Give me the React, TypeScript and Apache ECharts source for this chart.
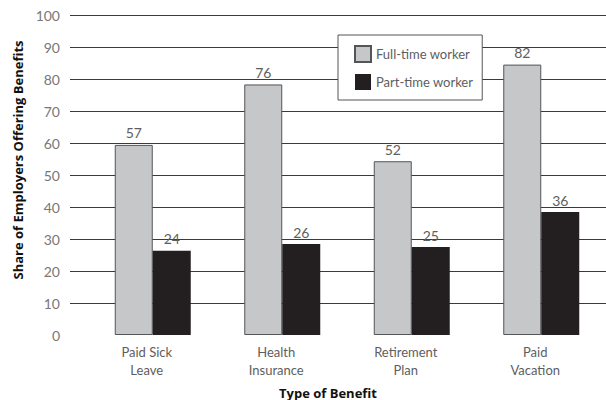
import React, { useEffect, useRef } from "react";
import * as echarts from "echarts";

const categories = ["Paid Sick\nLeave", "Health\nInsurance", "Retirement\nPlan", "Paid\nVacation"];
const seriesNames = ["Full-time worker", "Part-time worker"];
// bar heights as drawn in the figure
const fullTimeValues = [59.4, 78.3, 54.3, 84.5];
const partTimeValues = [26.3, 28.4, 27.5, 38.4];
// value labels printed above the bars
const fullTimeLabels = ["57", "76", "52", "82"];
const partTimeLabels = ["24", "26", "25", "36"];
const yTicks = [0, 10, 20, 30, 40, 50, 60, 70, 80, 90, 100];
const yTitle = "Share of Employers Offering Benefits";
const xTitle = "Type of Benefit";

const FONT = "Lato, 'Open Sans', sans-serif";
const TXT = "#5e5e5e";

export default function App() {
  const ref = useRef<HTMLDivElement>(null);
  useEffect(() => {
    if (!ref.current) return;
    const chart = echarts.init(ref.current, undefined, { renderer: "svg" });
    const yMin = yTicks[0];
    const yMax = yTicks[yTicks.length - 1];
    const yInterval = yTicks[1] - yTicks[0];
    chart.setOption({
      animation: false,
      backgroundColor: "#ffffff",
      textStyle: { fontFamily: FONT },
      grid: [
        { left: 70, right: 0, top: 15, bottom: 65 },
        { left: 88, width: 532, top: 15, bottom: 65 },
      ],
      xAxis: [
        { gridIndex: 0, type: "value", show: false, min: 0, max: 1 },
        {
          gridIndex: 1,
          type: "category",
          data: categories,
          axisLine: { show: false },
          axisTick: { show: false },
          axisLabel: {
            color: TXT,
            fontSize: 13,
            lineHeight: 18,
            margin: 8,
            fontFamily: FONT,
            padding: [0, 12, 0, 0],
          },
        },
      ],
      yAxis: [
        {
          gridIndex: 0,
          type: "value",
          min: yMin,
          max: yMax,
          interval: yInterval,
          axisLine: { show: false },
          axisTick: { show: false },
          axisLabel: { color: "#777777", fontSize: 14, margin: 10, fontFamily: FONT },
          splitLine: {
            show: true,
            lineStyle: { color: "#3a3a3a", width: 1 },
            showMinLine: false,
          },
        },
        {
          gridIndex: 1,
          type: "value",
          min: yMin,
          max: yMax,
          interval: yInterval,
          show: false,
          splitLine: { show: false },
        },
      ],
      legend: {
        orient: "vertical",
        left: 338,
        top: 35,
        padding: [10, 9, 10, 16],
        itemGap: 11,
        itemWidth: 16,
        itemHeight: 16,
        icon: "rect",
        backgroundColor: "#ffffff",
        borderColor: "#555555",
        borderWidth: 1,
        textStyle: { color: TXT, fontSize: 13, fontFamily: FONT },
        data: seriesNames,
        z: 10,
      },
      series: [
        {
          name: seriesNames[0],
          type: "bar",
          xAxisIndex: 1,
          yAxisIndex: 1,
          data: fullTimeValues,
          barWidth: 38,
          barGap: "0%",
          itemStyle: { color: "#c6c7c9", borderColor: "#555555", borderWidth: 1 },
          label: {
            show: true,
            position: "top",
            distance: 5,
            color: TXT,
            fontSize: 14,
            fontFamily: FONT,
            formatter: (p: any) => fullTimeLabels[p.dataIndex],
          },
        },
        {
          name: seriesNames[1],
          type: "bar",
          xAxisIndex: 1,
          yAxisIndex: 1,
          data: partTimeValues,
          barWidth: 38,
          barGap: "0%",
          itemStyle: { color: "#231f20" },
          label: {
            show: true,
            position: "top",
            distance: 5,
            color: TXT,
            fontSize: 14,
            fontFamily: FONT,
            formatter: (p: any) => partTimeLabels[p.dataIndex],
          },
        },
      ],
      graphic: [
        {
          type: "text",
          x: 18,
          y: 160,
          rotation: Math.PI / 2,
          style: {
            text: yTitle,
            fill: "#111",
            fontFamily: "'Open Sans', sans-serif",
            fontWeight: "bold",
            fontSize: 13,
            align: "center",
            verticalAlign: "middle",
          },
        },
        {
          type: "text",
          x: 328,
          y: 386,
          style: {
            text: xTitle,
            fill: "#111",
            fontFamily: "'Open Sans', sans-serif",
            fontWeight: "bold",
            fontSize: 13,
            align: "center",
            verticalAlign: "top",
          },
        },
      ],
    });
    return () => chart.dispose();
  }, []);
  return (
    <div
      ref={ref}
      style={{ position: "fixed", left: 0, top: 0, width: 606, height: 400 }}
    />
  );
}
